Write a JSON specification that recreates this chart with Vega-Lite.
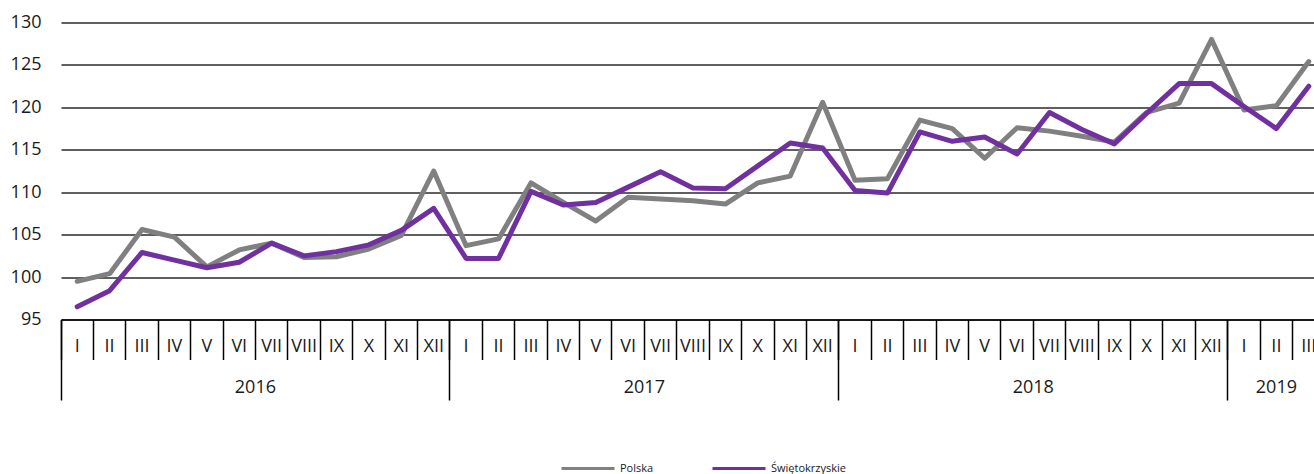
{
  "$schema": "https://vega.github.io/schema/vega-lite/v6.json",
  "autosize": {"type": "none"},
  "padding": {"left": 61, "top": 22.5, "right": 0, "bottom": 154.5},
  "width": 1264,
  "height": 297,
  "background": "white",
  "config": {
    "view": {"stroke": null},
    "font": "Open Sans",
    "axis": {"labelFont": "Open Sans", "labelColor": "#1a1a1a"},
    "legend": {"labelFont": "Open Sans"}
  },
  "data": {
    "values": [
      {"month": "2016-01", "series": "Polska", "value": 99.5},
      {"month": "2016-02", "series": "Polska", "value": 100.4},
      {"month": "2016-03", "series": "Polska", "value": 105.6},
      {"month": "2016-04", "series": "Polska", "value": 104.7},
      {"month": "2016-05", "series": "Polska", "value": 101.2},
      {"month": "2016-06", "series": "Polska", "value": 103.2},
      {"month": "2016-07", "series": "Polska", "value": 104.0},
      {"month": "2016-08", "series": "Polska", "value": 102.3},
      {"month": "2016-09", "series": "Polska", "value": 102.4},
      {"month": "2016-10", "series": "Polska", "value": 103.3},
      {"month": "2016-11", "series": "Polska", "value": 104.9},
      {"month": "2016-12", "series": "Polska", "value": 112.5},
      {"month": "2017-01", "series": "Polska", "value": 103.7},
      {"month": "2017-02", "series": "Polska", "value": 104.5},
      {"month": "2017-03", "series": "Polska", "value": 111.1},
      {"month": "2017-04", "series": "Polska", "value": 108.8},
      {"month": "2017-05", "series": "Polska", "value": 106.6},
      {"month": "2017-06", "series": "Polska", "value": 109.4},
      {"month": "2017-07", "series": "Polska", "value": 109.2},
      {"month": "2017-08", "series": "Polska", "value": 109.0},
      {"month": "2017-09", "series": "Polska", "value": 108.6},
      {"month": "2017-10", "series": "Polska", "value": 111.1},
      {"month": "2017-11", "series": "Polska", "value": 111.9},
      {"month": "2017-12", "series": "Polska", "value": 120.6},
      {"month": "2018-01", "series": "Polska", "value": 111.4},
      {"month": "2018-02", "series": "Polska", "value": 111.6},
      {"month": "2018-03", "series": "Polska", "value": 118.5},
      {"month": "2018-04", "series": "Polska", "value": 117.5},
      {"month": "2018-05", "series": "Polska", "value": 114.0},
      {"month": "2018-06", "series": "Polska", "value": 117.6},
      {"month": "2018-07", "series": "Polska", "value": 117.2},
      {"month": "2018-08", "series": "Polska", "value": 116.6},
      {"month": "2018-09", "series": "Polska", "value": 115.9},
      {"month": "2018-10", "series": "Polska", "value": 119.4},
      {"month": "2018-11", "series": "Polska", "value": 120.5},
      {"month": "2018-12", "series": "Polska", "value": 128.0},
      {"month": "2019-01", "series": "Polska", "value": 119.7},
      {"month": "2019-02", "series": "Polska", "value": 120.2},
      {"month": "2019-03", "series": "Polska", "value": 125.4},
      {"month": "2016-01", "series": "Świętokrzyskie", "value": 96.5},
      {"month": "2016-02", "series": "Świętokrzyskie", "value": 98.4},
      {"month": "2016-03", "series": "Świętokrzyskie", "value": 102.9},
      {"month": "2016-04", "series": "Świętokrzyskie", "value": 102.0},
      {"month": "2016-05", "series": "Świętokrzyskie", "value": 101.1},
      {"month": "2016-06", "series": "Świętokrzyskie", "value": 101.75},
      {"month": "2016-07", "series": "Świętokrzyskie", "value": 104.0},
      {"month": "2016-08", "series": "Świętokrzyskie", "value": 102.5},
      {"month": "2016-09", "series": "Świętokrzyskie", "value": 103.0},
      {"month": "2016-10", "series": "Świętokrzyskie", "value": 103.8},
      {"month": "2016-11", "series": "Świętokrzyskie", "value": 105.5},
      {"month": "2016-12", "series": "Świętokrzyskie", "value": 108.1},
      {"month": "2017-01", "series": "Świętokrzyskie", "value": 102.2},
      {"month": "2017-02", "series": "Świętokrzyskie", "value": 102.2},
      {"month": "2017-03", "series": "Świętokrzyskie", "value": 110.1},
      {"month": "2017-04", "series": "Świętokrzyskie", "value": 108.5},
      {"month": "2017-05", "series": "Świętokrzyskie", "value": 108.8},
      {"month": "2017-06", "series": "Świętokrzyskie", "value": 110.6},
      {"month": "2017-07", "series": "Świętokrzyskie", "value": 112.4},
      {"month": "2017-08", "series": "Świętokrzyskie", "value": 110.5},
      {"month": "2017-09", "series": "Świętokrzyskie", "value": 110.4},
      {"month": "2017-10", "series": "Świętokrzyskie", "value": 113.1},
      {"month": "2017-11", "series": "Świętokrzyskie", "value": 115.8},
      {"month": "2017-12", "series": "Świętokrzyskie", "value": 115.2},
      {"month": "2018-01", "series": "Świętokrzyskie", "value": 110.2},
      {"month": "2018-02", "series": "Świętokrzyskie", "value": 109.9},
      {"month": "2018-03", "series": "Świętokrzyskie", "value": 117.1},
      {"month": "2018-04", "series": "Świętokrzyskie", "value": 116.0},
      {"month": "2018-05", "series": "Świętokrzyskie", "value": 116.5},
      {"month": "2018-06", "series": "Świętokrzyskie", "value": 114.5},
      {"month": "2018-07", "series": "Świętokrzyskie", "value": 119.4},
      {"month": "2018-08", "series": "Świętokrzyskie", "value": 117.4},
      {"month": "2018-09", "series": "Świętokrzyskie", "value": 115.7},
      {"month": "2018-10", "series": "Świętokrzyskie", "value": 119.3},
      {"month": "2018-11", "series": "Świętokrzyskie", "value": 122.8},
      {"month": "2018-12", "series": "Świętokrzyskie", "value": 122.8},
      {"month": "2019-01", "series": "Świętokrzyskie", "value": 120.1},
      {"month": "2019-02", "series": "Świętokrzyskie", "value": 117.5},
      {"month": "2019-03", "series": "Świętokrzyskie", "value": 122.5}
    ]
  },
  "layer": [
    {
      "transform": [{"filter": "datum.series == 'Polska'"}],
      "mark": {"type": "line", "strokeWidth": 5, "strokeCap": "round", "strokeJoin": "round"},
      "encoding": {
        "x": {
          "field": "month", "type": "ordinal", "bandPosition": 0.5,
          "scale": {"type": "band", "paddingInner": 0, "paddingOuter": 0},
          "axis": {
            "title": null, "orient": "bottom", "bandPosition": 0,
            "tickSize": 40, "tickColor": "#000000", "tickWidth": 1.5,
            "domainColor": "#000000", "domainWidth": 1.5,
            "labelExpr": "['I','II','III','IV','V','VI','VII','VIII','IX','X','XI','XII'][toNumber(substring(datum.value,5,7))-1]",
            "labelOffset": 0, "labelAngle": 0, "labelBaseline": "middle", "labelAlign": "center",
            "labelPadding": -12.8, "labelFontSize": 18, "labelOverlap": false, "labelBound": false,
            "grid": false
          }
        },
        "y": {
          "field": "value", "type": "quantitative",
          "scale": {"domain": [95, 130], "nice": false, "zero": false},
          "axis": {
            "title": null, "values": [95, 100, 105, 110, 115, 120, 125, 130],
            "grid": true, "gridColor": "#2a2a2a", "gridWidth": 1.5,
            "ticks": false, "domain": false, "labelPadding": 20, "labelFontSize": 18
          }
        },
        "color": {
          "field": "series", "type": "nominal",
          "scale": {"domain": ["Polska", "Świętokrzyskie"], "range": ["#808080", "#7030a0"]},
          "legend": {
            "title": null, "orient": "none", "legendX": 499, "legendY": 418, "direction": "horizontal",
            "symbolType": "stroke", "symbolSize": 2809, "symbolStrokeWidth": 3,
            "labelFontSize": 11, "labelOffset": 4, "columnPadding": 52, "labelColor": "#1a1a1a"
          }
        }
      }
    },
    {
      "transform": [{"filter": "datum.series == 'Świętokrzyskie'"}],
      "mark": {"type": "line", "strokeWidth": 5, "strokeCap": "round", "strokeJoin": "round"},
      "encoding": {
        "x": {
          "field": "month", "type": "ordinal", "bandPosition": 0.5,
          "scale": {"type": "band", "paddingInner": 0, "paddingOuter": 0},
          "axis": {
            "title": null, "orient": "bottom", "bandPosition": 0,
            "values": ["2016-01", "2017-01", "2018-01", "2019-01"],
            "tickSize": 80.5, "tickColor": "#000000", "tickWidth": 1.5,
            "domain": false,
            "labelExpr": "substring(datum.value,0,4)",
            "labelOffset": {"condition": {"test": "datum.value == '2019-01'", "value": 32.4}, "value": 178.2},
            "labelAngle": 0, "labelBaseline": "middle", "labelAlign": "center",
            "labelPadding": -13, "labelFontSize": 18, "labelOverlap": false, "labelBound": false,
            "grid": false
          }
        },
        "y": {"field": "value", "type": "quantitative", "axis": null},
        "color": {"field": "series", "type": "nominal"}
      }
    }
  ],
  "resolve": {"axis": {"x": "independent", "y": "independent"}}
}
